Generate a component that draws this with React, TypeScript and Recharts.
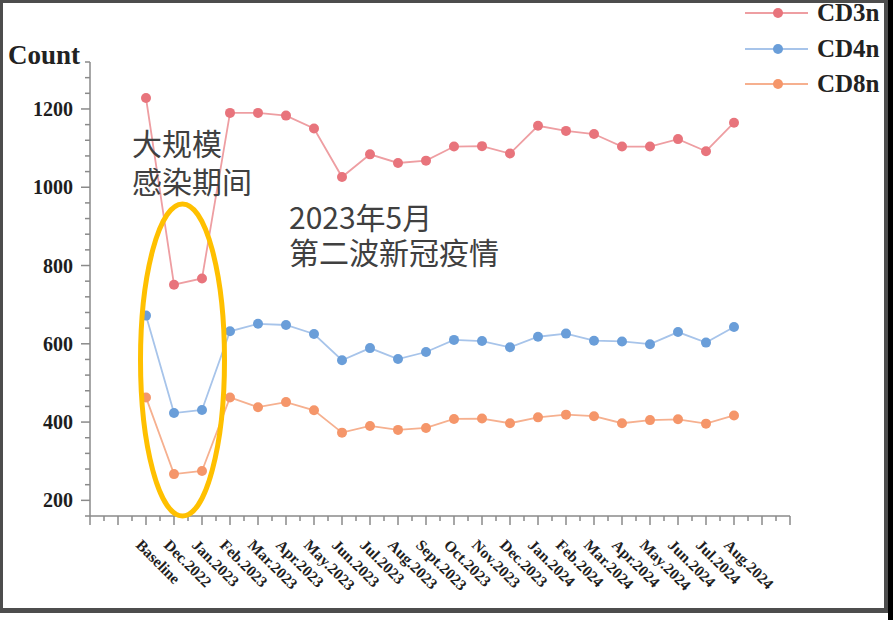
import { LineChart, Line, XAxis, YAxis, Legend } from 'recharts';

const categories = [
  'Baseline', 'Dec.2022', 'Jan.2023', 'Feb.2023', 'Mar.2023', 'Apr.2023', 'May.2023', 'Jun.2023',
  'Jul.2023', 'Aug.2023', 'Sept.2023', 'Oct.2023', 'Nov.2023', 'Dec.2023', 'Jan.2024', 'Feb.2024',
  'Mar.2024', 'Apr.2024', 'May.2024', 'Jun.2024', 'Jul.2024', 'Aug.2024',
];
const cd3n = [1228, 751, 767, 1190, 1190, 1183, 1150, 1026, 1084, 1062, 1068, 1104, 1105, 1086, 1157, 1144, 1136, 1104, 1104, 1123, 1092, 1165];
const cd4n = [672, 423, 431, 632, 651, 648, 625, 558, 589, 561, 579, 610, 607, 591, 618, 626, 608, 606, 599, 630, 603, 643];
const cd8n = [463, 267, 275, 463, 438, 451, 430, 373, 390, 380, 385, 408, 409, 397, 412, 419, 415, 397, 405, 407, 396, 417];
const yLabels = [200, 400, 600, 800, 1000, 1200];

const series = [
  { key: 'cd3', name: 'CD3n', line: '#EE9EA2', dot: '#E8747C' },
  { key: 'cd4', name: 'CD4n', line: '#A7C4EA', dot: '#6A9ED9' },
  { key: 'cd8', name: 'CD8n', line: '#F6B08F', dot: '#F5966A' },
];

const data = categories.map((label, i) => ({
  idx: i,
  label,
  cd3: cd3n[i],
  cd4: cd4n[i],
  cd8: cd8n[i],
}));

// axis ticks: majors at each category, minors halfway
const xTicks: number[] = [];
for (let t = -2; t <= 23; t += 0.5) xTicks.push(t);
const yTicks: number[] = [];
for (let t = 160; t <= 1320; t += 40) yTicks.push(t);

const axisColor = '#8a8a8a';
const serif = '"Liberation Serif", "Times New Roman", serif';
const cjk = '"Noto Sans CJK SC", "Noto Sans", sans-serif';

const XTick = (props: any) => {
  const { x, y, payload } = props;
  const v = payload.value;
  const major = Number.isInteger(v);
  const label = major && v >= 0 && v < categories.length ? categories[v] : null;
  const tx = x - 11;
  const ty = y + 30;
  return (
    <g>
      <line x1={x} y1={y} x2={x} y2={y + (major ? 9 : 5)} stroke={axisColor} strokeWidth={1.5} />
      {label && (
        <text
          x={tx}
          y={ty}
          transform={`rotate(45 ${tx} ${ty})`}
          textAnchor="start"
          fontFamily={serif}
          fontWeight="bold"
          fontSize={15.5}
          fill="#1e1e1e"
        >
          {label}
        </text>
      )}
    </g>
  );
};

const YTick = (props: any) => {
  const { x, y, payload } = props;
  const v = payload.value;
  const major = yLabels.includes(v);
  return (
    <g>
      <line x1={x} y1={y} x2={x - (major ? 9 : 5)} y2={y} stroke={axisColor} strokeWidth={1.5} />
      {major && (
        <text
          x={x - 17}
          y={y}
          dy="0.35em"
          textAnchor="end"
          fontFamily={serif}
          fontWeight="bold"
          fontSize={20}
          fill="#1e1e1e"
        >
          {v}
        </text>
      )}
    </g>
  );
};

const renderLegend = (props: any) => (
  <div>
    {(props.payload || []).map((item: any) => {
      const s = series.find((d) => d.name === item.value) || series[0];
      return (
        <div key={item.value} style={{ display: 'flex', alignItems: 'center', height: 35.5 }}>
          <svg width={72} height={12} style={{ display: 'block' }}>
            <line x1={0} y1={6} x2={63} y2={6} stroke={s.line} strokeWidth={2} />
            <circle cx={33} cy={6} r={5} fill={s.dot} />
          </svg>
          <span
            style={{
              fontFamily: serif,
              fontWeight: 'bold',
              fontSize: 25,
              color: '#222',
              whiteSpace: 'nowrap',
              lineHeight: '18px',
            }}
          >
            {item.value}
          </span>
        </div>
      );
    })}
  </div>
);

const CountLabel = (props: any) => {
  const { viewBox } = props;
  return (
    <text x={viewBox.x + 8} y={viewBox.y + 2} fontFamily={serif} fontWeight="bold" fontSize={27} fill="#222">
      Count
    </text>
  );
};

export default function App() {
  return (
    <div
      style={{
        position: 'absolute',
        left: 0,
        top: 0,
        width: 893,
        height: 620,
        overflow: 'hidden',
        background: '#fff',
      }}
    >
      <LineChart width={893} height={620} data={data} margin={{ top: 62, right: 103, bottom: 0, left: 0 }}>
        <XAxis
          type="number"
          dataKey="idx"
          domain={[-2, 23]}
          ticks={xTicks}
          interval={0}
          allowDataOverflow
          tick={XTick}
          tickLine={false}
          tickSize={0}
          tickMargin={0}
          height={104}
          axisLine={{ stroke: axisColor, strokeWidth: 1.5 }}
        />
        <YAxis
          type="number"
          domain={[160, 1320]}
          ticks={yTicks}
          interval={0}
          allowDataOverflow
          tick={YTick}
          tickLine={false}
          tickSize={0}
          tickMargin={0}
          width={90}
          axisLine={{ stroke: axisColor, strokeWidth: 1.5 }}
          label={{ value: 'Count', content: CountLabel }}
        />
        <Legend
          layout="vertical"
          align="center"
          verticalAlign="middle"
          content={renderLegend}
          wrapperStyle={{ top: -4.5, left: 745, width: 138 }}
        />
        {series.map((s) => (
          <Line
            key={s.key}
            type="linear"
            dataKey={s.key}
            name={s.name}
            stroke={s.line}
            strokeWidth={1.8}
            dot={{ r: 5, fill: s.dot, stroke: s.dot, strokeWidth: 0 }}
            activeDot={false}
            isAnimationActive={false}
          />
        ))}
      </LineChart>

      {/* annotation overlay */}
      <svg width={893} height={620} style={{ position: 'absolute', left: 0, top: 0, pointerEvents: 'none' }}>
        <ellipse cx={182.5} cy={360} rx={42} ry={156} fill="none" stroke="#FFC000" strokeWidth={5} />
      </svg>
      <div
        style={{
          position: 'absolute',
          left: 132,
          top: 123,
          fontFamily: cjk,
          fontSize: 30,
          lineHeight: '38px',
          color: '#404040',
          whiteSpace: 'pre',
        }}
      >
        {'大规模\n感染期间'}
      </div>
      <div
        style={{
          position: 'absolute',
          left: 289,
          top: 199,
          fontFamily: cjk,
          fontSize: 30,
          lineHeight: '35px',
          color: '#404040',
          whiteSpace: 'pre',
        }}
      >
        {'2023年5月\n第二波新冠疫情'}
      </div>

      {/* screenshot frame */}
      <div
        style={{
          position: 'absolute',
          left: 0,
          top: 0,
          width: 888,
          height: 613,
          boxSizing: 'border-box',
          borderTop: '3px solid #4d4d4d',
          borderLeft: '3px solid #4d4d4d',
          borderRight: '4px solid #4d4d4d',
          borderBottom: '5px solid #4d4d4d',
          zIndex: 10,
          pointerEvents: 'none',
        }}
      />
      <div style={{ position: 'absolute', left: 0, top: 613, width: 888, height: 7, background: '#fff', zIndex: 10 }} />
      <div style={{ position: 'absolute', left: 888, top: 0, width: 5, height: 620, background: '#000', zIndex: 10 }} />
    </div>
  );
}
